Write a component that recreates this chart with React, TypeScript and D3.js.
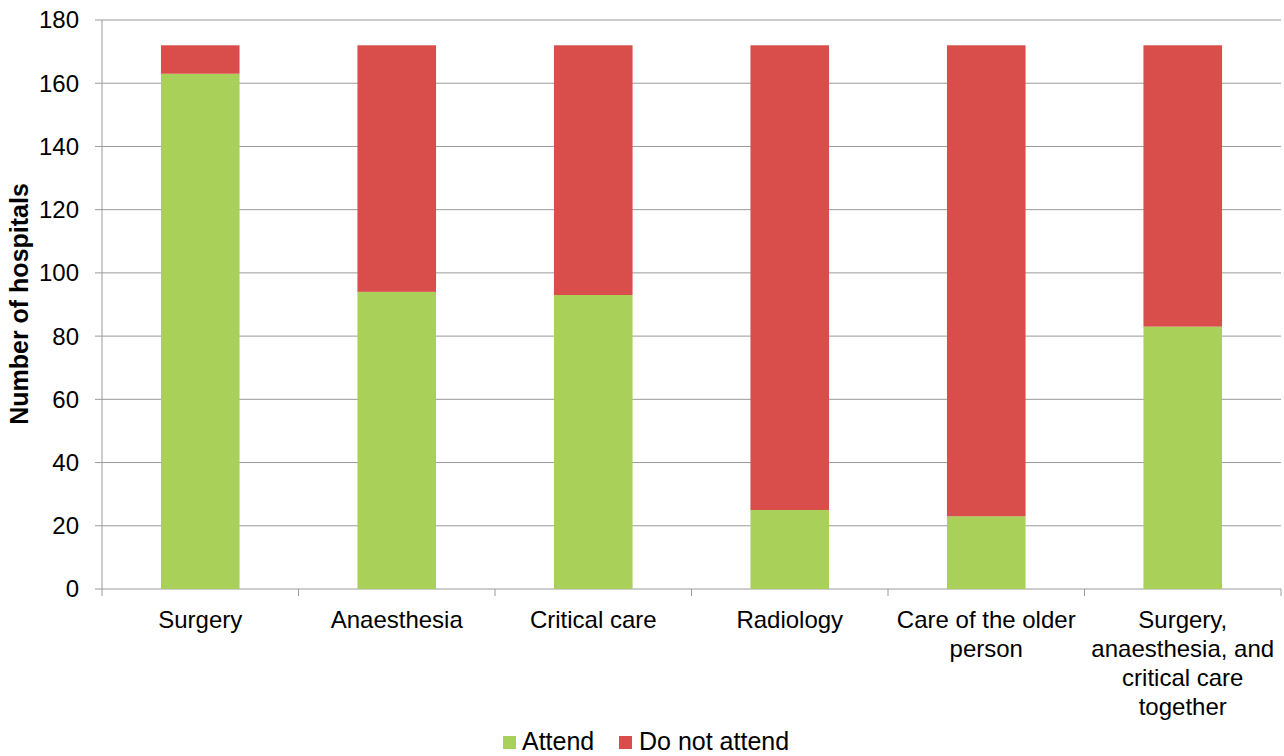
import React from "react";
import * as d3 from "d3";

const categories = [
  ["Surgery"],
  ["Anaesthesia"],
  ["Critical care"],
  ["Radiology"],
  ["Care of the older", "person"],
  ["Surgery,", "anaesthesia, and", "critical care", "together"],
];
const attend = [163, 94, 93, 25, 23, 83];
const doNotAttend = [9, 78, 79, 147, 149, 89];
const yTicks = [0, 20, 40, 60, 80, 100, 120, 140, 160, 180];
const seriesNames = ["Attend", "Do not attend"];
const colors = ["#A9D15A", "#D94D4B"];

export default function App() {
  const W = 1284, H = 756;
  const left = 102, right = 1281, top = 20, bottom = 589;
  const keys = categories.map((c) => c.join(" "));
  const x = d3.scaleBand().domain(keys).range([left, right]).paddingInner(0.6).paddingOuter(0.3);
  const y = d3.scaleLinear().domain([0, 180]).range([bottom, top]);
  const rows = keys.map((k, i) => ({ key: k, attend: attend[i], not: doNotAttend[i] }));
  const stacked = d3.stack<any>().keys(["attend", "not"])(rows);
  const step = (right - left) / keys.length;
  const font = "'Liberation Sans', Arial, Helvetica, sans-serif";
  return (
    <svg width={W} height={H} style={{ position: "absolute", left: 0, top: 0, background: "#fff" }} fontFamily={font}>
      {yTicks.map((t) => (
        <g key={t}>
          <line x1={left - 7} x2={right} y1={y(t)} y2={y(t)} stroke="#9a9a9a" strokeWidth={1} />
          <text x={79} y={y(t)} dy="0.35em" textAnchor="end" fontSize={24} fill="#000">{t}</text>
        </g>
      ))}
      <line x1={left} x2={left} y1={top} y2={bottom} stroke="#9a9a9a" />
      {d3.range(keys.length + 1).map((i) => (
        <line key={i} x1={left + i * step} x2={left + i * step} y1={bottom} y2={bottom + 7} stroke="#9a9a9a" />
      ))}
      {stacked.map((s, si) =>
        s.map((d, i) => (
          <rect key={si + "-" + i} x={x(keys[i])} width={x.bandwidth()} y={y(d[1])} height={y(d[0]) - y(d[1])} fill={colors[si]} />
        ))
      )}
      {categories.map((lines, i) => (
        <text key={i} x={(x(keys[i]) as number) + x.bandwidth() / 2} textAnchor="middle" fontSize={24} fill="#000">
          {lines.map((l, j) => (
            <tspan key={j} x={(x(keys[i]) as number) + x.bandwidth() / 2} y={628 + j * 29}>{l}</tspan>
          ))}
        </text>
      ))}
      <text transform={`translate(28,304) rotate(-90)`} textAnchor="middle" fontSize={25} fontWeight="bold" fill="#000">
        Number of hospitals
      </text>
      <g>
        <rect x={503} y={736} width={13} height={13} fill={colors[0]} />
        <text x={522} y={750} fontSize={25} fill="#000">{seriesNames[0]}</text>
        <rect x={619} y={736} width={13} height={13} fill={colors[1]} />
        <text x={639} y={750} fontSize={25} fill="#000">{seriesNames[1]}</text>
      </g>
    </svg>
  );
}
